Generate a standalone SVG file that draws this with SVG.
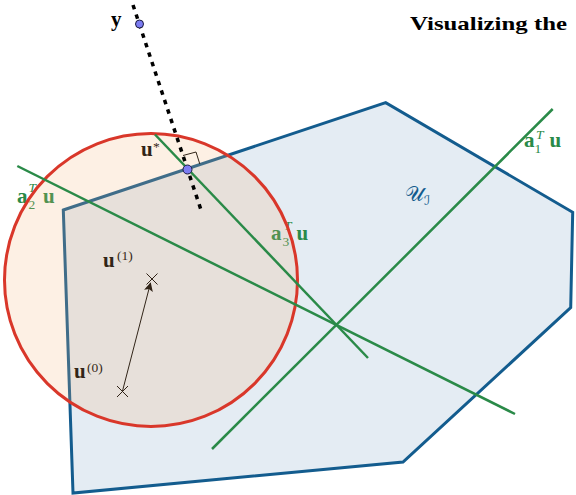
<svg xmlns="http://www.w3.org/2000/svg" width="576" height="495" viewBox="0 0 576 495">
<style>
.m{font-family:"Liberation Serif","DejaVu Serif",serif;font-weight:bold;font-size:21px;fill:#000}
.sup{font-family:"Liberation Serif","DejaVu Serif",serif;font-style:italic;font-weight:normal;font-size:13.5px}
.sub{font-family:"Liberation Serif","DejaVu Serif",serif;font-weight:normal;font-size:13.5px}
.g{fill:#2a8a48}
.gl{stroke:#2a8a48;stroke-width:2.5;fill:none}
.ink{stroke:#000;stroke-width:1;fill:none}
</style>
<defs>
<marker id="ah" viewBox="0 0 10 10" refX="9" refY="5" markerWidth="9" markerHeight="9" markerUnits="userSpaceOnUse" orient="auto">
<path d="M0,0 L10,5 L0,10 L2,5 Z" fill="#000"/>
</marker>
</defs>
<text x="410" y="30" font-family="Liberation Serif,serif" font-weight="bold" font-size="19" textLength="157" lengthAdjust="spacingAndGlyphs">Visualizing the</text>
<g id="region">
<polygon points="63.3,210 385.7,102.7 572.7,212.3 570.7,307.7 403,462 73,493" fill="#e4ecf3" stroke="#135c8e" stroke-width="3" stroke-linejoin="miter"/>
<text x="405" y="201" font-family="'DejaVu Sans','Noto Sans',sans-serif" font-size="21" fill="#135c8e">𝒰<tspan font-size="13" dy="4">ℐ</tspan></text>
</g>
<g id="labels-under">
<text class="m" x="141" y="156">u</text>
<text class="sub" x="153" y="151" font-size="15">*</text>
<g id="iterates">
<text class="m" x="103" y="267">u</text>
<text class="sub" x="117" y="260" font-size="15">(1)</text>
<text class="m" x="74" y="378">u</text>
<text class="sub" x="87" y="372" font-size="15">(0)</text>
<path class="ink" d="M146.5,273.5 L157.5,284.5 M157.5,273.5 L146.5,284.5"/>
<path class="ink" d="M117,386 L128,397 M128,386 L117,397"/>
<line class="ink" x1="122.5" y1="391" x2="150.5" y2="283" marker-end="url(#ah)"/>
</g>
<polyline class="ink" points="183,155.5 196,152 199.8,164"/>
<g id="a2-label">
<text class="m g" x="17" y="203">a</text>
<text class="sup g" x="28.5" y="191.5">T</text>
<text class="sub g" x="28.5" y="209">2</text>
<text class="m g" x="43" y="203">u</text>
</g>
<g id="a3-label">
<text class="m g" x="271" y="240">a</text>
<text class="sup g" x="284" y="230">T</text>
<text class="sub g" x="282.5" y="246">3</text>
<text class="m g" x="296.5" y="240">u</text>
</g>
</g>
<g id="ball">
<circle cx="151" cy="280" r="146.5" fill="#f5b478" fill-opacity="0.2" stroke="#d9372a" stroke-width="3"/>
</g>
<g id="a1-label">
<text class="m g" x="524" y="147">a</text>
<text class="sup g" x="536" y="138.5">T</text>
<text class="sub g" x="534.5" y="153">1</text>
<text class="m g" x="549.5" y="147">u</text>
</g>
<g id="connectors">
<line class="gl" x1="212" y1="449" x2="552.7" y2="109"/>
<line class="gl" x1="17.3" y1="166" x2="515" y2="414"/>
<line class="gl" x1="155" y1="134.5" x2="368" y2="358"/>
<line x1="133" y1="5" x2="201.7" y2="212" stroke="#000" stroke-width="3.5" stroke-dasharray="4.5 5.5"/>
</g>
<g id="y">
<text class="m" x="111" y="26">y</text>
<circle cx="139.5" cy="24" r="4" fill="#7c7cf2" stroke="#1a1a40" stroke-width="1"/>
</g>
<g id="ustar">
<circle cx="187.5" cy="169.5" r="4.5" fill="#7c7cf2" stroke="#1a1a40" stroke-width="1"/>
</g>
</svg>
